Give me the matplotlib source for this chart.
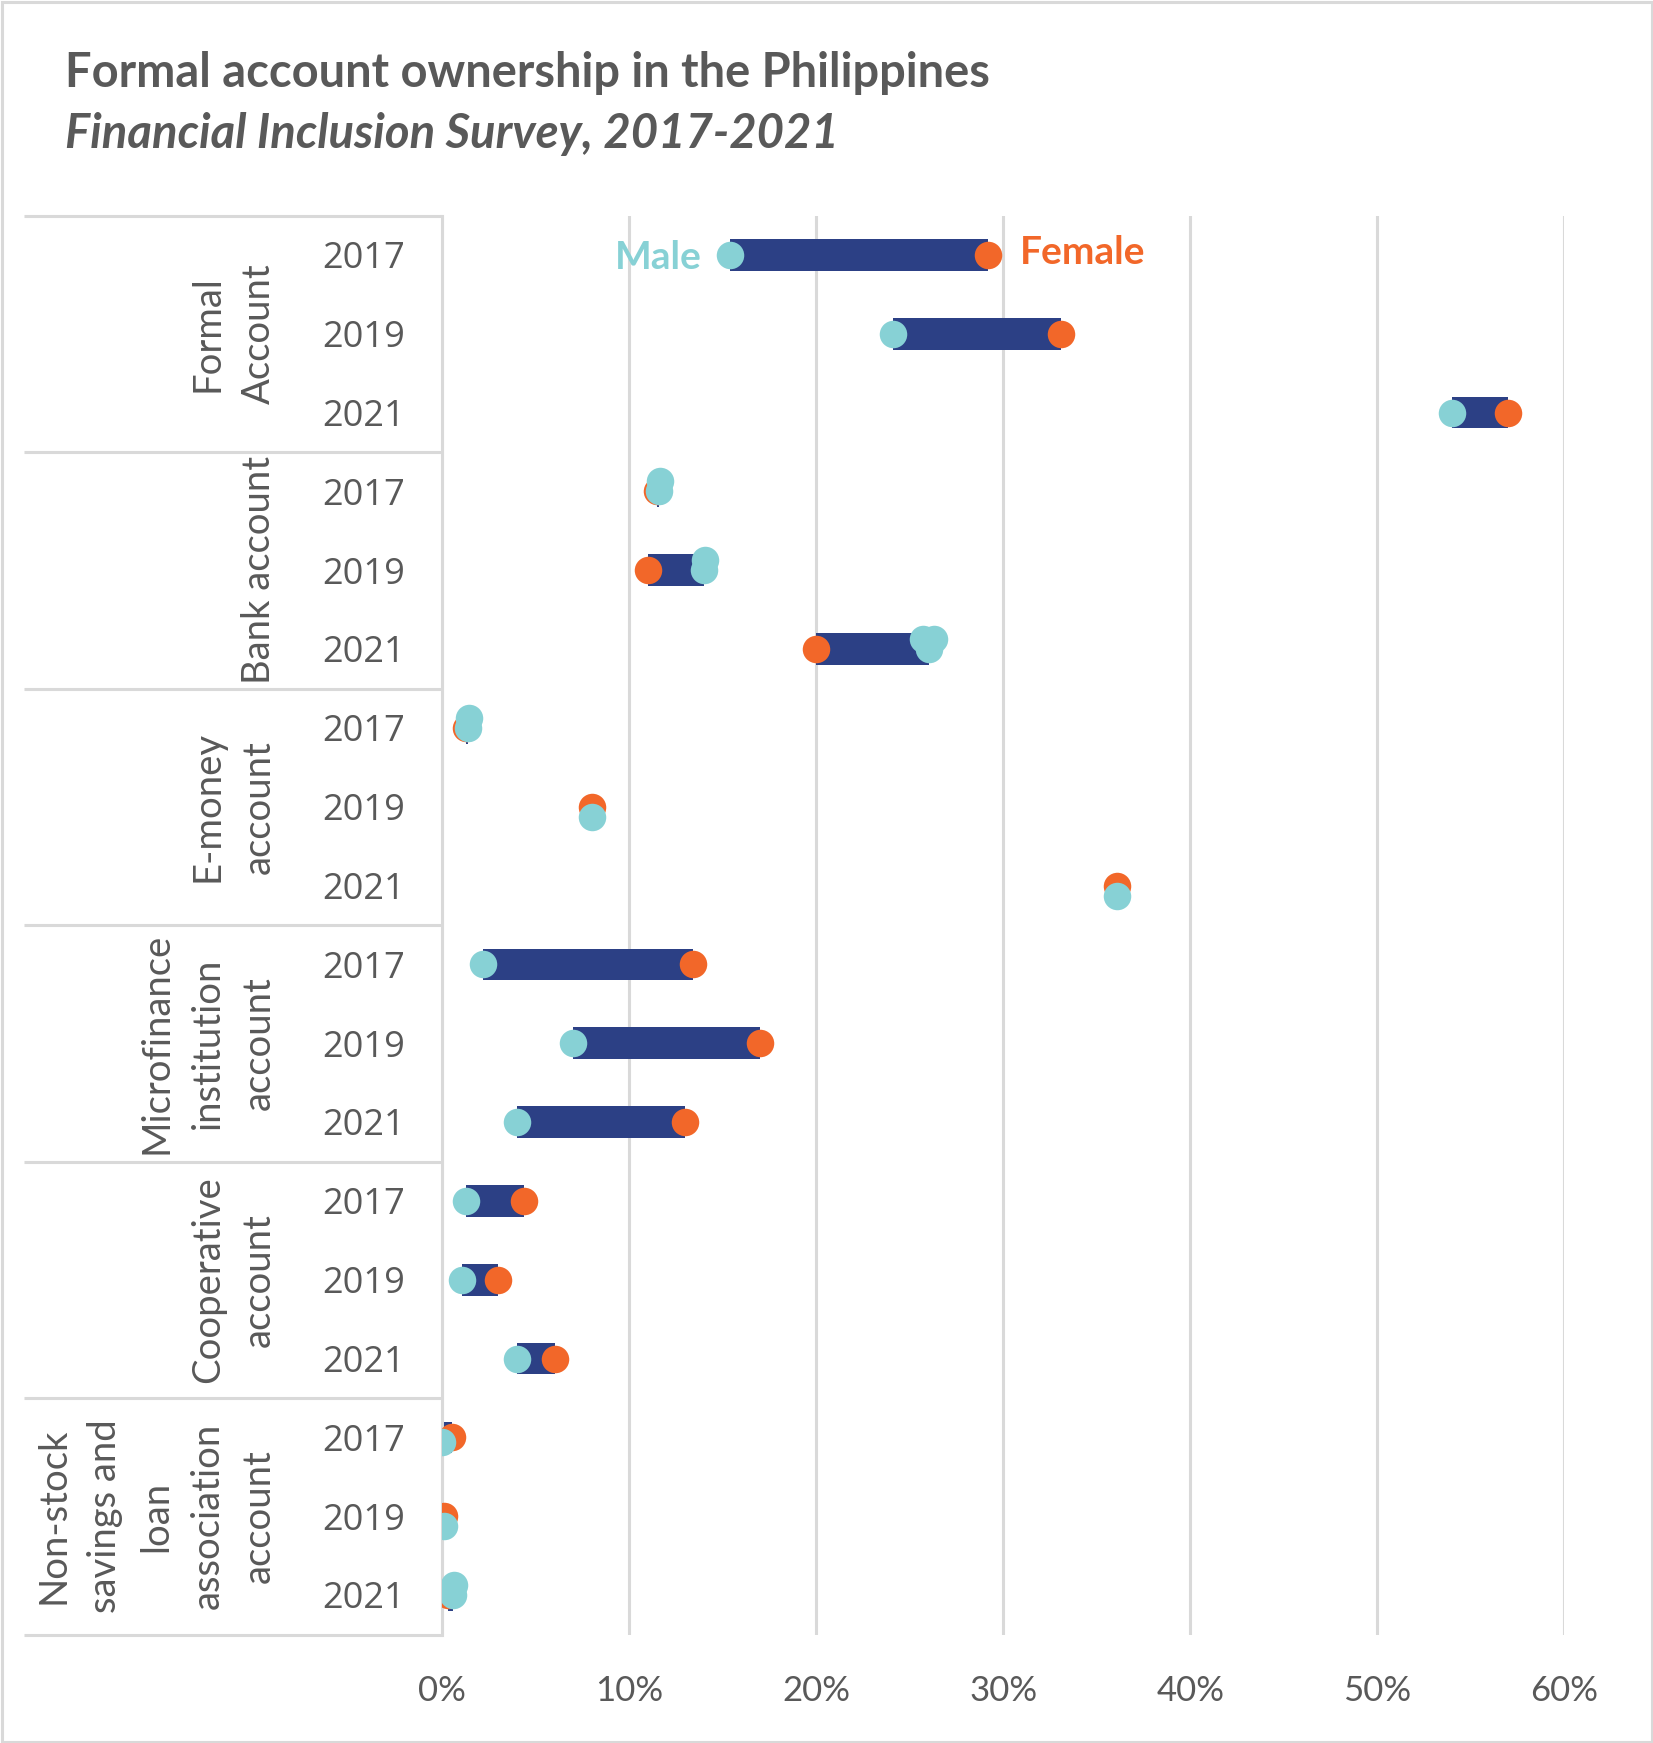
import numpy as np
import matplotlib
matplotlib.use("Agg")
import matplotlib.pyplot as plt
from matplotlib.patches import Rectangle
from matplotlib.ticker import FuncFormatter
from matplotlib.transforms import offset_copy

# ---------------- data ----------------
groups = ["Formal\nAccount", "Bank account", "E-money\naccount",
          "Microfinance\ninstitution\naccount", "Cooperative\naccount",
          "Non-stock\nsavings and\nloan\nassociation\naccount"]
years = ["2017", "2019", "2021"]

male = [15.4, 24.1, 54.0,
        11.6, 14.0, 26.0,
        1.4, 8.0, 36.1,
        2.2, 7.0, 4.0,
        1.25, 1.05, 4.0,
        0.0, 0.1, 0.55]
female = [29.2, 33.1, 57.0,
          11.5, 11.0, 20.0,
          1.25, 8.0, 36.1,
          13.4, 17.0, 13.0,
          4.35, 3.0, 6.05,
          0.5, 0.1, 0.3]
# duplicate (overlapping) male markers visible in the original, by row
male_dup = {3: [11.65], 4: [14.05], 5: [25.7, 26.3], 6: [1.45], 17: [0.6]}
# rows where the male marker sits slightly below the row centre (relative amount)
male_drop = [0, 0, 0, 0, 0, 0, 0, 1, 1, 0, 0, 0, 0, 0, 0, 0.5, 1, 0]
xticks = [0, 10, 20, 30, 40, 50, 60]

title = "Formal account ownership in the Philippines"
subtitle = "Financial Inclusion Survey, 2017-2021"

# ---------------- style ----------------
NAVY = "#2C4085"
ORANGE = "#F26729"
TEAL = "#87D1D5"
GREY = "#D9D9D9"
TXT = "#595959"
LAB = "Lato"
YEARF = "Open Sans"

W, H = 1653, 1743
fig = plt.figure(figsize=(W / 100, H / 100), dpi=100)

left_px, right_px, top_px, bot_px = 442.3, 1564.3, 215.5, 1634.5
ax = fig.add_axes([left_px / W, 1 - bot_px / H,
                   (right_px - left_px) / W, (bot_px - top_px) / H])

n = len(male)
y = np.arange(n)
row_px = (bot_px - top_px) / n
shift = 10.0 / row_px

m = np.array(male)
f = np.array(female)
lo = np.minimum(m, f)
ax.barh(y, np.abs(f - m), left=lo, height=0.40, color=NAVY, zorder=2)

ms = 27.5 * 72 / 100
ax.plot(f, y, "o", ls="none", ms=ms, color=ORANGE, mec="none", zorder=3)
for r, vals in male_dup.items():
    for v in vals:
        ax.plot([v], [r - shift], "o", ls="none", ms=ms, color=TEAL, mec="none", zorder=4)
ax.plot(m, y + np.array(male_drop) * shift, "o", ls="none", ms=ms,
        color=TEAL, mec="none", zorder=5)

ax.set_xlim(0, 60)
ax.set_ylim(n - 0.5, -0.5)
ax.set_xticks(xticks)
ax.xaxis.set_major_formatter(FuncFormatter(lambda v, p: f"{v:.0f}%"))
ax.set_yticks([])
ax.xaxis.grid(True, color=GREY, lw=2.2)
ax.set_axisbelow(True)
for s in ["top", "right", "bottom"]:
    ax.spines[s].set_visible(False)
ax.spines["left"].set_color(GREY)
ax.spines["left"].set_linewidth(2.2)
ax.tick_params(axis="x", length=0, pad=29, labelsize=25, labelcolor=TXT)
for lbl in ax.get_xticklabels():
    lbl.set_fontfamily(LAB)

# ---------- category table on the left ----------
ytr = ax.get_yaxis_transform()
tab_left = (24.3 - left_px) / (right_px - left_px)
for g in range(len(groups) + 1):
    yy = g * 3 - 0.5
    ax.plot([tab_left, 0], [yy, yy], transform=ytr, color=GREY, lw=2.2,
            clip_on=False, solid_capstyle="butt")

year_x = (363.5 - left_px) / (right_px - left_px)
ytr_year = offset_copy(ytr, fig=fig, x=0, y=-13.3, units="dots")
for i in range(n):
    ax.text(year_x, i, years[i % 3], transform=ytr_year, ha="center",
            va="baseline", fontsize=26, family=YEARF, color=TXT)

grp_x = (277 - left_px) / (right_px - left_px)
for g, name in enumerate(groups):
    ax.text(grp_x, g * 3 + 1, name, transform=ytr, rotation=90, ha="right",
            va="center", multialignment="center", linespacing=1.53,
            fontsize=27.5, family=LAB, color=TXT, rotation_mode="default")

# ---------- series labels ----------
ax.annotate("Male", (male[0], 0), xytext=(-29, -14.3), textcoords="offset pixels",
            ha="right", va="baseline", fontsize=28, fontweight="bold",
            family=LAB, color=TEAL, zorder=6)
ax.annotate("Female", (female[0], 0), xytext=(32, -9.3), textcoords="offset pixels",
            ha="left", va="baseline", fontsize=28, fontweight="bold",
            family=LAB, color=ORANGE, zorder=6, annotation_clip=False)

# ---------- titles ----------
fig.text(65 / W, 1 - 86.7 / H, title, ha="left", va="baseline", fontsize=33.8,
         fontweight="bold", family=LAB, color=TXT)
fig.text(65 / W, 1 - 148 / H, subtitle, ha="left", va="baseline", fontsize=34,
         fontweight="bold", fontstyle="italic", family=LAB, color=TXT)

# ---------- outer border ----------
fig.patches.append(Rectangle((1.5 / W, 1.5 / H), 1 - 3 / W, 1 - 3 / H,
                             transform=fig.transFigure, fill=False,
                             ec=GREY, lw=2.2))

fig.savefig("out.png", dpi=100, facecolor="white")
